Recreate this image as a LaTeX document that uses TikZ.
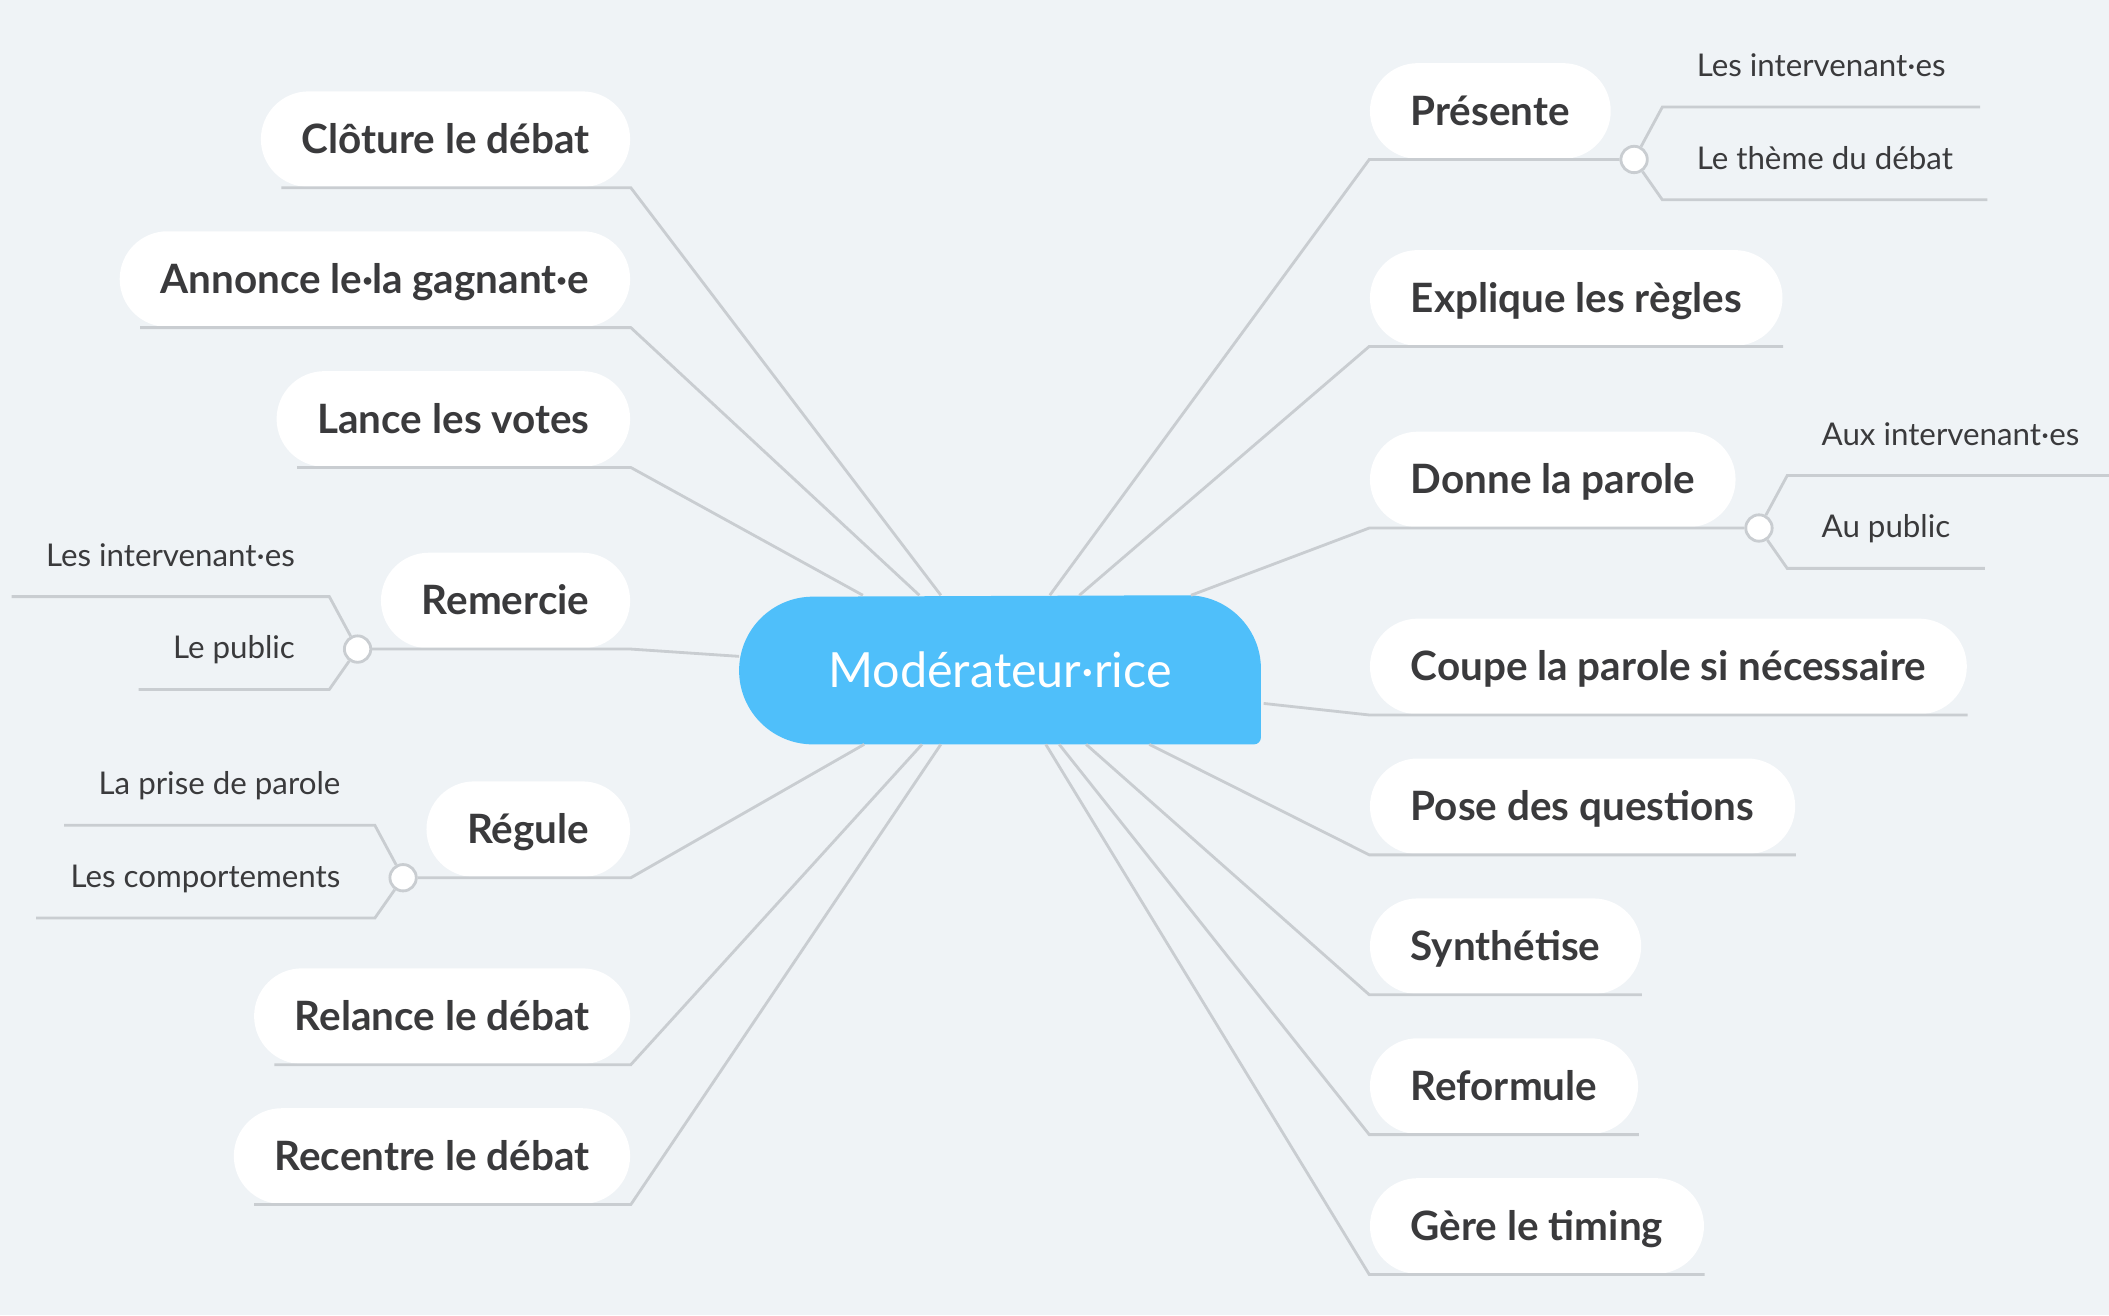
\documentclass[tikz,border=0pt]{standalone}
\usepackage{fontspec}
\setmainfont{Lato}
\usetikzlibrary{positioning,calc}
\definecolor{fondgris}{RGB}{239,243,246}
\definecolor{trait}{RGB}{201,205,209}
\definecolor{bleu}{RGB}{79,191,250}
\definecolor{texte}{RGB}{58,58,60}

\begin{document}
\begin{tikzpicture}[x=0.01345cm,y=-0.01345cm,
  pill/.style={fill=white,rounded corners=13.6pt,minimum height=27.2pt,inner xsep=11.6pt,text height=1.8ex,text depth=0.2ex,text=texte,font=\fontsize{11.5}{13}\selectfont\bfseries},
  sub/.style={minimum height=23pt,inner xsep=9.6pt,text height=1.5ex,text depth=0.3ex,text=texte,font=\fontsize{8.9}{10}\selectfont},
  lien/.style={draw=trait,line width=0.8pt},
  noeud/.style={circle,draw=trait,line width=0.8pt,fill=white,minimum size=7.5pt,inner sep=0pt}]
\useasboundingbox (0,0) rectangle (1568,978);
\clip (0,0) rectangle (1568,978);
\fill[fondgris] (0,0) rectangle (1568,978);
\node[minimum width=148pt,minimum height=42pt,inner sep=0pt] (ctr) at (743.5,498) {};
\fill[bleu] ([xshift=-21pt]ctr.north east) arc[start angle=90,end angle=0,radius=21pt]
  -- ([yshift=2pt]ctr.south east) arc[start angle=0,end angle=-90,radius=2pt]
  -- ([xshift=21pt]ctr.south west) arc[start angle=270,end angle=90,radius=21pt] -- cycle;
\node[text=white,font=\fontsize{13.8}{15}\selectfont] (ctrtxt) at (ctr) {Modérateur·rice};

\node[pill,anchor=west] (pres) at (1018,82.5) {Présente};
\node[pill,anchor=west] (expl) at (1018,221.5) {Explique les règles};
\node[pill,anchor=west] (donne) at (1018,356.5) {Donne la parole};
\node[pill,anchor=west] (coupe) at (1018,495.5) {Coupe la parole si nécessaire};
\node[pill,anchor=west] (pose) at (1018,599.5) {Pose des questions};
\node[pill,anchor=west] (synth) at (1018,703.5) {Synthétise};
\node[pill,anchor=west] (refor) at (1018,807.5) {Reformule};
\node[pill,anchor=west] (gere) at (1018,911.5) {Gère le timing};

\node[pill,anchor=east] (clot) at (469,103.5) {Clôture le débat};
\node[pill,anchor=east] (annon) at (469,207.5) {Annonce le·la gagnant·e};
\node[pill,anchor=east] (lance) at (469,311.5) {Lance les votes};
\node[pill,anchor=east] (remer) at (469,446.5) {Remercie};
\node[pill,anchor=east] (regul) at (469,616.5) {Régule};
\node[pill,anchor=east] (relan) at (469,755.5) {Relance le débat};
\node[pill,anchor=east] (recen) at (469,859.5) {Recentre le débat};

\node[noeud,right=2.3pt of pres.south east] (jpres) {};
\node[noeud,right=2.3pt of donne.south east] (jdonne) {};
\node[noeud,left=2.3pt of remer.south west] (jremer) {};
\node[noeud,left=2.3pt of regul.south west] (jregul) {};

\coordinate (cpres1) at ([shift={(21,-39)}]jpres.center);
\coordinate (cpres2) at ([shift={(21,30)}]jpres.center);
\coordinate (cdonne1) at ([shift={(21,-39)}]jdonne.center);
\coordinate (cdonne2) at ([shift={(21,30)}]jdonne.center);
\coordinate (cremer1) at ([shift={(-21,-39)}]jremer.center);
\coordinate (cremer2) at ([shift={(-21,30)}]jremer.center);
\coordinate (cregul1) at ([shift={(-21,-39)}]jregul.center);
\coordinate (cregul2) at ([shift={(-21,30)}]jregul.center);

\node[sub,anchor=south west] (spres1) at (cpres1) {Les intervenant·es};
\node[sub,anchor=south west] (spres2) at (cpres2) {Le thème du débat};
\node[sub,anchor=south west] (sdonne1) at (cdonne1) {Aux intervenant·es};
\node[sub,anchor=south west] (sdonne2) at (cdonne2) {Au public};
\node[sub,anchor=south east] (sremer1) at (cremer1) {Les intervenant·es};
\node[sub,anchor=south east] (sremer2) at (cremer2) {Le public};
\node[sub,anchor=south east] (sregul1) at (cregul1) {La prise de parole};
\node[sub,anchor=south east] (sregul2) at (cregul2) {Les comportements};

\draw[lien] ([shift={(231,0)}]ctr.north west) -- (pres.south west) -- (pres.south east) -- (jpres);
\draw[lien] ([shift={(253,0)}]ctr.north west) -- (expl.south west) -- (expl.south east);
\draw[lien] ([shift={(336,0)}]ctr.north west) -- (donne.south west) -- (donne.south east) -- (jdonne);
\draw[lien] ([shift={(2,25)}]ctr.east) -- (coupe.south west) -- (coupe.south east);
\draw[lien] ([shift={(305,0)}]ctr.south west) -- (pose.south west) -- (pose.south east);
\draw[lien] ([shift={(258,0)}]ctr.south west) -- (synth.south west) -- (synth.south east);
\draw[lien] ([shift={(238,0)}]ctr.south west) -- (refor.south west) -- (refor.south east);
\draw[lien] ([shift={(228,0)}]ctr.south west) -- (gere.south west) -- (gere.south east);

\draw[lien] ([shift={(150,0)}]ctr.north west) -- (clot.south east) -- ([xshift=6pt]clot.south west);
\draw[lien] ([shift={(134,0)}]ctr.north west) -- (annon.south east) -- ([xshift=6pt]annon.south west);
\draw[lien] ([shift={(92,0)}]ctr.north west) -- (lance.south east) -- ([xshift=6pt]lance.south west);
\draw[lien] ([shift={(0,-10)}]ctr.west) -- (remer.south east) -- (remer.south west) -- (jremer);
\draw[lien] ([shift={(93,0)}]ctr.south west) -- (regul.south east) -- (regul.south west) -- (jregul);
\draw[lien] ([shift={(136,0)}]ctr.south west) -- (relan.south east) -- ([xshift=6pt]relan.south west);
\draw[lien] ([shift={(150,0)}]ctr.south west) -- (recen.south east) -- ([xshift=6pt]recen.south west);

\draw[lien] (jpres) -- (cpres1) -- (spres1.south east);
\draw[lien] (jpres) -- (cpres2) -- (spres2.south east);
\draw[lien] (jdonne) -- (cdonne1) -- (sdonne1.south east);
\draw[lien] (jdonne) -- (cdonne2) -- (sdonne2.south east);
\draw[lien] (jremer) -- (cremer1) -- (sremer1.south west);
\draw[lien] (jremer) -- (cremer2) -- (sremer2.south west);
\draw[lien] (jregul) -- (cregul1) -- (sregul1.south west);
\draw[lien] (jregul) -- (cregul2) -- (sregul2.south west);
\end{tikzpicture}
\end{document}
